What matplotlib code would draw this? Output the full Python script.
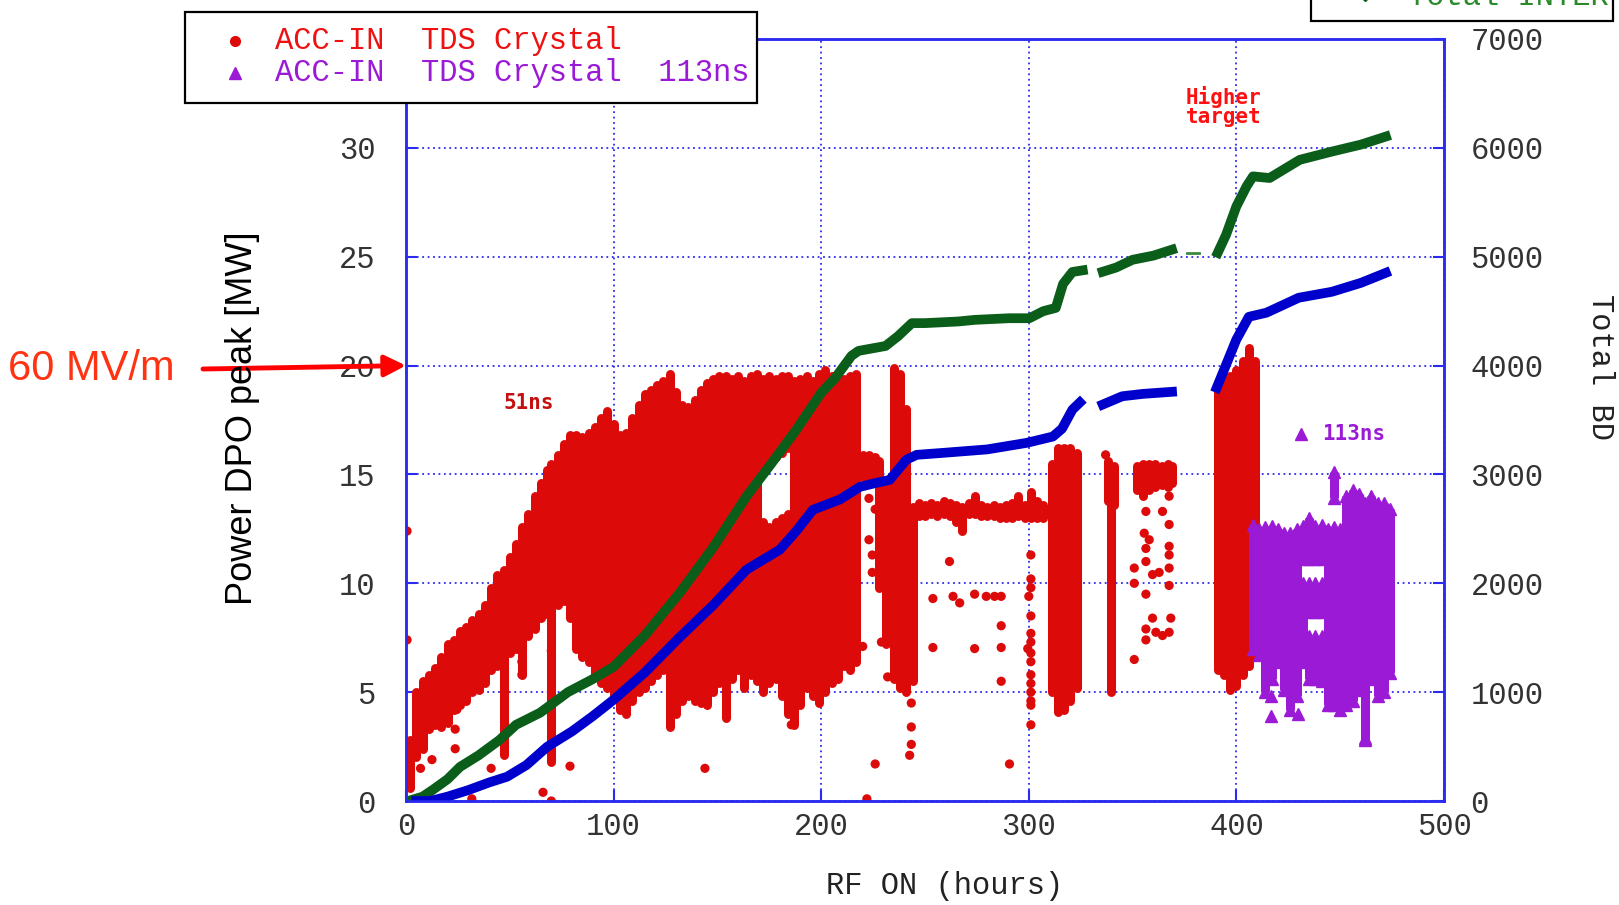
import numpy as np
import matplotlib
matplotlib.use('Agg')
import matplotlib.pyplot as plt
from matplotlib.lines import Line2D
from matplotlib.patches import Rectangle

# ---- values ----
# red cloud (ACC-IN TDS Crystal, 51ns) as vertical streaks: hour, low MW, high MW
g1_x = [2, 5, 8, 11, 14, 17, 20, 23, 26, 29,
        32, 35, 38, 41, 44, 47, 50, 53, 56, 59,
        62, 65, 68, 70, 73, 76, 79, 82, 85, 88,
        91, 94, 97, 100, 103, 106, 109, 112, 115, 118,
        121, 124, 127, 130, 133, 136, 139, 142, 145, 148,
        151, 154, 157, 160, 163, 166, 169, 172, 175, 178,
        181, 184, 187, 190, 193, 196, 199, 202, 205, 208,
        211, 214, 217]
g1_lo = [0.6, 2.0, 2.4, 3.3, 3.5, 3.4, 3.6, 4.2, 4.4, 4.6,
         5.0, 5.1, 5.4, 6.0, 6.2, 2.1, 6.8, 7.0, 5.8, 7.6,
         7.9, 8.4, 8.6, 1.8, 9.0, 9.2, 8.4, 7.0, 6.6, 6.4,
         5.8, 5.4, 5.2, 4.8, 4.2, 4.0, 4.6, 5.0, 5.2, 5.5,
         5.8, 6.0, 3.4, 4.0, 4.6, 4.8, 4.6, 4.5, 4.4, 5.0,
         5.4, 3.8, 5.6, 6.0, 5.2, 5.8, 5.5, 5.0, 5.4, 5.6,
         4.8, 4.0, 3.5, 4.4, 5.2, 4.8, 4.5, 5.0, 5.4, 5.6,
         6.2, 6.0, 6.4]
g1_hi = [2.8, 5.0, 5.5, 5.8, 6.1, 6.6, 7.2, 7.4, 7.8, 8.0,
         8.3, 8.6, 9.0, 9.8, 10.4, 10.6, 11.2, 11.8, 12.6, 13.2,
         14.0, 14.6, 15.2, 15.5, 15.9, 16.4, 16.8, 16.8, 16.7, 16.9,
         17.2, 17.6, 17.9, 17.3, 16.8, 16.9, 17.6, 18.2, 18.7, 18.9,
         19.1, 19.3, 19.6, 18.8, 18.2, 18.1, 18.4, 18.9, 19.2, 19.4,
         19.5, 19.5, 19.4, 19.5, 19.3, 19.5, 19.6, 12.8, 12.6, 12.8,
         13.0, 13.2, 19.3, 19.4, 19.5, 19.3, 19.6, 19.8, 19.5, 19.6,
         19.4, 19.5, 19.6]
# upper parts above the gap near the green curve
g1u_x = [172, 175, 178, 181, 184]
g1u_lo = [15.2, 15.5, 15.8, 16.0, 16.2]
g1u_hi = [19.4, 19.5, 19.4, 19.5, 19.5]

g2_x = [220, 223, 226, 228, 231, 235, 238, 241, 244, 247,
        250, 253, 256, 259, 262, 265, 268, 271, 274, 277,
        280, 283, 286, 289, 292, 295, 298, 301, 304, 307]
g2_lo = [14.9, 14.9, 14.8, 9.8, 7.2, 5.6, 5.2, 5.0, 5.5, 13.1,
         13.1, 13.2, 13.1, 13.2, 13.1, 12.8, 12.4, 13.2, 13.2, 13.1,
         13.1, 13.1, 13.0, 13.0, 13.0, 13.1, 13.0, 13.0, 13.0, 13.0]
g2_hi = [15.9, 15.9, 15.8, 15.6, 14.5, 19.9, 19.6, 18.0, 13.5, 13.7,
         13.6, 13.7, 13.6, 13.8, 13.7, 13.6, 13.5, 13.7, 14.0, 13.6,
         13.5, 13.6, 13.5, 13.6, 13.7, 14.0, 13.6, 14.2, 13.8, 13.6]

g3_x = [311, 314, 317, 320, 323, 338, 339.5, 341, 352, 355,
        358, 361, 364, 367, 369, 391, 394, 397, 400, 403,
        406, 409]
g3_lo = [5.0, 4.1, 4.2, 4.6, 5.2, 13.8, 5.0, 13.6, 14.3, 14.0,
         14.3, 14.4, 14.5, 14.4, 14.6, 6.0, 5.8, 5.1, 5.3, 5.8,
         6.2, 6.6]
g3_hi = [15.5, 16.2, 16.2, 16.2, 16.0, 15.6, 13.6, 15.4, 15.4, 15.5,
         15.5, 15.5, 15.4, 15.5, 15.4, 19.2, 19.3, 19.5, 19.8, 20.2,
         20.8, 20.2]

# isolated red points
red_pt_x = [0.5, 0.5, 2, 2, 7, 12.5, 23.7, 23.7, 24.5, 31.7,
            41, 55.8, 55.8, 66, 70, 70, 79, 144, 185.6, 215,
            220, 222, 223, 226, 223, 224.6, 224.6, 227.8, 229, 229,
            232, 232, 226, 237.8, 243.4, 243.4, 243.4, 242.6, 261.8, 253.8,
            263.5, 266.7, 273.9, 279.5, 283.5, 286.7, 253.8, 273.9, 286.7, 286.7,
            286.7, 290.7, 301, 301, 301, 300, 301, 301, 301, 299.5,
            301, 301, 301, 301, 301, 301, 301, 301, 337, 350.8,
            350.8, 350.8, 356.4, 355.6, 358, 356.4, 356.4, 359.6, 362.8, 356.4,
            359.6, 356.4, 361.2, 356.4, 367.6, 364.4, 367.6, 367.6, 367.6, 367.6,
            367.6, 368.4, 367.6, 364.4]
red_pt_y = [12.4, 7.4, 1.3, 0.9, 1.5, 1.9, 3.3, 2.4, 4.2, 0.1,
            1.5, 6.4, 5.8, 0.4, 0.0, 6.9, 1.6, 1.5, 3.5, 6.4,
            7.1, 0.1, 13.9, 13.4, 12.0, 11.3, 10.5, 10.5, 9.9, 7.3,
            7.3, 5.7, 1.7, 7.8, 4.5, 3.4, 2.6, 2.1, 11.0, 9.3,
            9.4, 9.1, 9.5, 9.4, 9.4, 9.4, 7.05, 7.0, 8.05, 7.05,
            5.5, 1.7, 11.3, 10.2, 9.8, 9.4, 8.5, 7.7, 7.3, 7.0,
            6.8, 6.4, 5.8, 5.4, 5.0, 4.6, 4.4, 3.5, 15.9, 10.7,
            10.0, 6.5, 13.3, 12.3, 12.0, 11.6, 11.0, 10.4, 10.5, 9.5,
            8.4, 7.9, 7.75, 7.4, 14.0, 13.3, 12.7, 11.7, 11.3, 10.7,
            9.9, 8.4, 7.75, 7.6]

# purple cloud (113ns) as vertical streaks
pur_x = [408, 411, 414, 417, 420, 423, 426, 429, 432, 432,
         435, 435, 435, 438, 438, 438, 441, 441, 441, 444,
         447, 447, 450, 453, 456, 459, 462, 465, 468, 471,
         474]
pur_lo = [7.0, 6.7, 5.0, 5.6, 6.4, 5.1, 4.2, 4.8, 6.4, 11.1,
          5.6, 8.7, 11.1, 5.6, 8.7, 11.1, 5.5, 8.7, 11.1, 4.4,
          4.4, 13.9, 4.2, 4.4, 4.6, 5.1, 2.8, 5.6, 4.8, 5.0,
          5.9]
pur_hi = [12.7, 12.5, 12.6, 12.65, 12.5, 12.3, 12.3, 12.5, 10.0, 12.65,
          7.6, 10.0, 13.0, 7.6, 10.0, 12.65, 7.6, 10.0, 12.7, 12.5,
          12.6, 15.1, 12.5, 14.0, 14.3, 14.1, 13.7, 14.0, 13.7, 13.7,
          13.4]
pur_pt_x = [416.8, 416.8, 429.5, 462]
pur_pt_y = [4.8, 3.9, 4.0, 2.9]

# cumulative breakdowns (right axis), NaN = gap in the record
green_h = [1, 8, 13, 20, 26, 35, 45, 53, 64.6, 78,
           90, 100, 115, 132, 148, 164, 176, 188, 200, 206.5,
           214.6, 218, 231, 237, 243.7, 250, 266, 274, 290.6, 300.3,
           307, 313, 316.5, 321, 326, np.nan,
           335.6, 342, 350, 360, 369, np.nan,
           391, 395, 400, 405, 408, 416, 430.5, 446, 460, 472]
green_bd = [0, 40, 104, 200, 313, 420, 560, 700, 811, 1000,
            1120, 1233, 1520, 1916, 2330, 2798, 3100, 3410, 3750, 3880,
            4090, 4135, 4180, 4270, 4390, 4390, 4405, 4420, 4435, 4435,
            4500, 4530, 4750, 4860, 4875, np.nan,
            4862, 4900, 4972, 5010, 5065, np.nan,
            5036, 5200, 5463, 5650, 5738, 5723, 5890, 5966, 6030, 6104]
green_dash_h = [376, 382]
green_dash_bd = [5036, 5036]

blue_h = [5, 11.7, 20, 30, 40, 48.7, 58, 68, 80, 90,
          100, 115, 132, 148, 164, 180, 188, 196, 209, 218.7,
          226, 233, 241, 246, 260, 280, 299, 311.6, 316, 321,
          324.6, np.nan,
          335.6, 345, 355, 369, np.nan,
          390.5, 400, 406, 414.5, 430, 446, 460, 472]
blue_bd = [0, 0, 40, 100, 170, 223, 330, 498, 640, 780,
           930, 1180, 1508, 1800, 2125, 2308, 2480, 2675, 2770, 2886,
           2920, 2950, 3135, 3180, 3200, 3230, 3290, 3348, 3420, 3595,
           3661, np.nan,
           3642, 3718, 3740, 3759, np.nan,
           3796, 4240, 4448, 4486, 4623, 4678, 4760, 4852]

RED = '#dd0a0a'
PURPLE = '#9a1ad6'
GREEN = '#0b5e1a'
BLUE = '#0000cc'
FRAME = '#2b2bf0'

plt.rcParams['font.family'] = ['Liberation Mono', 'DejaVu Sans Mono']

W, H = 1619, 905
fig = plt.figure(figsize=(W / 100, H / 100), dpi=100)
ax = fig.add_axes([406 / W, 1 - 801 / H, (1444 - 406) / W, (801 - 39) / H])

ax.set_xlim(0, 500)
ax.set_ylim(0, 35)
ax.set_xticks([0, 100, 200, 300, 400, 500])
ax.set_yticks([0, 5, 10, 15, 20, 25, 30])
ax.set_axisbelow(True)
ax.grid(True, color=FRAME, linestyle=(0, (1, 2)), linewidth=1.3)
for sp in ax.spines.values():
    sp.set_color(FRAME)
    sp.set_linewidth(1.8)
ax.tick_params(axis='both', direction='in', length=8, width=1.5, color=FRAME,
               labelsize=22, labelcolor='#333333')
ax.tick_params(axis='y', pad=22)
ax.tick_params(axis='x', pad=8)

# red streaks and points
seg_x = g1_x + g1u_x + g2_x + g3_x
seg_lo = g1_lo + g1u_lo + g2_lo + g3_lo
seg_hi = g1_hi + g1u_hi + g2_hi + g3_hi
lc = ax.vlines(seg_x, seg_lo, seg_hi, colors=RED, linewidth=6.5)
lc.set_capstyle('round')
ax.scatter(red_pt_x, red_pt_y, s=44, color=RED, edgecolors='none')

# purple streaks with triangle ends
ax.vlines(pur_x, pur_lo, pur_hi, colors=PURPLE, linewidth=6.5)
ax.plot(pur_x, pur_hi, '^', ms=8, color=PURPLE, ls='none')
ax.plot(pur_x, pur_lo, '^', ms=8, color=PURPLE, ls='none')
ax.plot(pur_pt_x, pur_pt_y, '^', ms=8, color=PURPLE, ls='none')

# cumulative BD on the right axis
ax2 = ax.twinx()
ax2.set_ylim(0, 7000)
ax2.set_yticks(range(0, 7001, 1000))
for sp in ax2.spines.values():
    sp.set_color(FRAME)
    sp.set_linewidth(1.8)
ax2.tick_params(axis='y', direction='in', length=8, width=1.5, color=FRAME,
                labelsize=22, labelcolor='#333333', pad=19)
ax2.plot(green_h, green_bd, color=GREEN, lw=7, solid_capstyle='projecting')
ax2.plot(green_dash_h, green_dash_bd, color='#3a8a3a', lw=2)
ax2.plot(blue_h, blue_bd, color=BLUE, lw=7, solid_capstyle='projecting')

# annotations inside the plot
ann = dict(family='DejaVu Sans Mono', fontweight='bold', fontsize=15)
ax.text(59, 18.3, '51ns', color='#c41010', ha='center', va='center', **ann)
ax.text(394, 31.9, 'Higher\ntarget', color='#ff1010', ha='center', va='center',
        linespacing=0.9, **ann)
ax.plot([431], [16.85], '^', ms=9, color=PURPLE)
ax.text(441.5, 16.85, '113ns', color=PURPLE, ha='left', va='center', **ann)

# 60 MV/m arrow
fig.text(8 / W, 1 - 369 / H, '60 MV/m', color='#ff3311', fontsize=30,
         family='Liberation Sans', ha='left', va='center')
ax.annotate('', xy=(0, 20), xycoords='data', xytext=(203, H - 369),
            textcoords='figure pixels', annotation_clip=False,
            arrowprops=dict(arrowstyle='-|>', color='red', lw=3.5,
                            mutation_scale=32, shrinkA=0, shrinkB=0))

# axis titles
fig.text(243 / W, 1 - 418 / H, 'Power DPO peak [MW]', rotation=90,
         family='Liberation Sans', fontsize=26, ha='center', va='center')
fig.text(945 / W, 1 - 886 / H, 'RF ON (hours)', fontsize=22, color='#222222',
         ha='center', va='center')
fig.text(1600 / W, 1 - 367 / H, 'Total BD', rotation=270, fontsize=22,
         color='#222222', ha='center', va='center')

# legend box, top left (white, drawn over the plot frame)
fig.add_artist(Rectangle((185 / W, 1 - 103 / H), (757 - 185) / W, (103 - 12) / H,
                         transform=fig.transFigure, facecolor='white',
                         edgecolor='black', linewidth=1.6, zorder=5))
fig.add_artist(Line2D([235 / W], [1 - 41 / H], marker='o', ms=7, color=RED,
                      transform=fig.transFigure, zorder=6))
fig.add_artist(Line2D([235 / W], [1 - 73 / H], marker='^', ms=8, color=PURPLE,
                      transform=fig.transFigure, zorder=6))
fig.text(275 / W, 1 - 41 / H, 'ACC-IN  TDS Crystal', color='#ee1111',
         fontsize=22, ha='left', va='center', zorder=6)
fig.text(275 / W, 1 - 73 / H, 'ACC-IN  TDS Crystal  113ns', color=PURPLE,
         fontsize=22, ha='left', va='center', zorder=6)

# second legend box, cut off at the top edge
fig.add_artist(Rectangle((1311 / W, 1 - 21 / H), (1613 - 1311) / W, 0.2,
                         transform=fig.transFigure, facecolor='white',
                         edgecolor='black', linewidth=1.6, zorder=5))
fig.add_artist(Line2D([1365 / W], [1 + 6 / H], marker='D', ms=7, color=GREEN,
                      transform=fig.transFigure, zorder=6))
fig.text(1408 / W, 1 - 5 / H, 'Total INTER', color='#2a8a2a', fontsize=22,
         ha='left', va='baseline', zorder=6)

fig.savefig('out.png', dpi=100)
